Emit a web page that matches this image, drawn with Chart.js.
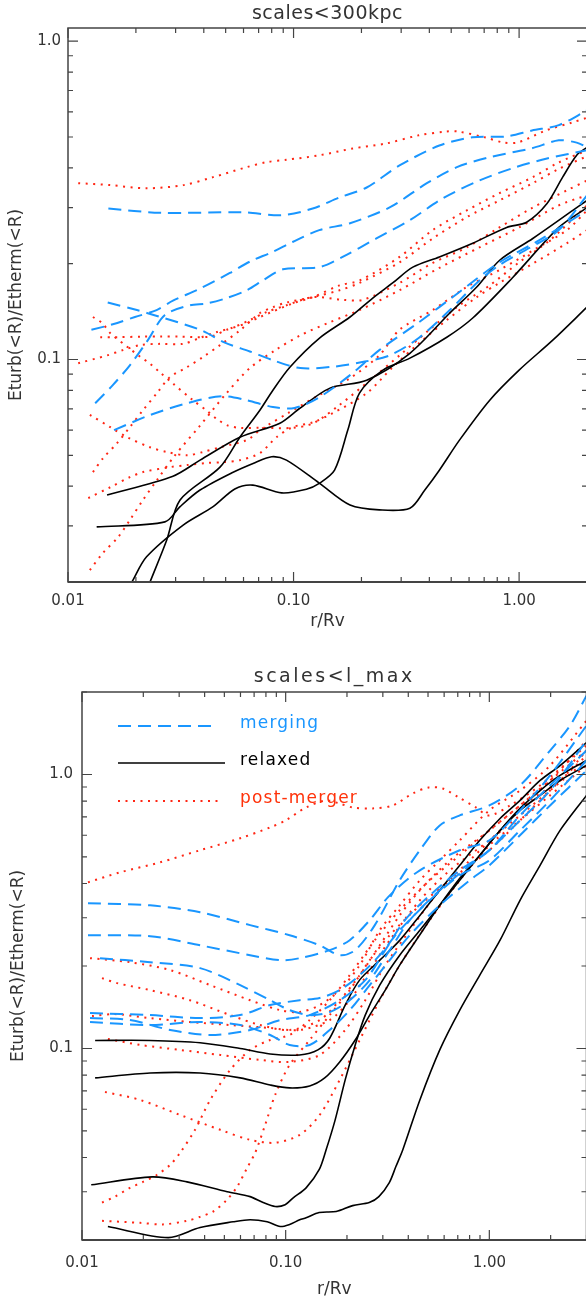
<!DOCTYPE html>
<html><head><meta charset="utf-8">
<script src="https://cdn.jsdelivr.net/npm/chart.js@4"></script>
<style>
html,body{margin:0;padding:0;overflow:hidden;background:#fff;width:586px;height:1302px;}
#c1{position:absolute;left:0;top:0;}
#c2{position:absolute;left:0;top:640px;}
</style></head><body>
<canvas id="c1" width="590" height="640" style="width:590px;height:640px"></canvas>
<canvas id="c2" width="590" height="662" style="width:590px;height:662px"></canvas>
<script>
// ---------------- data (r/Rv , Eturb/Etherm) ----------------
const X_TICKS = [0.01, 0.1, 1];
const X_TICK_LABELS = ['0.01', '0.10', '1.00'];
const Y_TICKS = [0.1, 1];
const Y_TICK_LABELS = ['0.1', '1.0'];
const X_TITLE = 'r/Rv';
const Y_TITLE = 'Eturb(<R)/Etherm(<R)';
const TITLE_TOP = 'scales<300kpc';
const TITLE_BOT = 'scales<l_max';
const LEGEND_LABELS = ['merging', 'relaxed', 'post-merger'];

// top panel: merging
const TOP_MERGING_1 = [[0.0151,0.298],[0.0256,0.289],[0.0596,0.29],[0.0887,0.284],[0.1216,0.298],[0.16,0.323],[0.211,0.347],[0.295,0.407],[0.443,0.47],[0.622,0.499],[0.88,0.502],[1.14,0.524],[1.5,0.545],[2.0,0.606]];
const TOP_MERGING_2 = [[0.0127,0.124],[0.0158,0.129],[0.0198,0.136],[0.0247,0.143],[0.0292,0.153],[0.0385,0.167],[0.0522,0.187],[0.064,0.203],[0.081,0.218],[0.099,0.234],[0.13,0.255],[0.178,0.268],[0.268,0.301],[0.39,0.358],[0.53,0.402],[0.74,0.432],[1.14,0.461],[1.5,0.488],[1.8,0.48],[2.0,0.464]];
const TOP_MERGING_3 = [[0.0132,0.0729],[0.0158,0.0831],[0.0188,0.0959],[0.0226,0.115],[0.0269,0.138],[0.0347,0.148],[0.0413,0.150],[0.0506,0.156],[0.062,0.165],[0.073,0.177],[0.0897,0.192],[0.13,0.195],[0.165,0.21],[0.233,0.24],[0.328,0.274],[0.459,0.321],[0.667,0.365],[0.936,0.399],[1.33,0.428],[2.0,0.454]];
const TOP_MERGING_4 = [[0.015,0.151],[0.0202,0.143],[0.0248,0.137],[0.0385,0.124],[0.0496,0.113],[0.064,0.106],[0.081,0.0995],[0.107,0.094],[0.152,0.095],[0.207,0.0985],[0.267,0.103],[0.36,0.117],[0.493,0.143],[0.667,0.177],[0.818,0.198],[1.11,0.224],[1.5,0.255],[2.0,0.328]];
const TOP_MERGING_5 = [[0.016,0.060],[0.0231,0.0669],[0.0337,0.0729],[0.0481,0.0767],[0.0621,0.0745],[0.081,0.0709],[0.101,0.0704],[0.13,0.0761],[0.178,0.0893],[0.24,0.107],[0.36,0.131],[0.544,0.163],[0.818,0.202],[1.23,0.237],[2.0,0.294]];
// top panel: relaxed
const TOP_RELAXED_1 = [[0.0149,0.0375],[0.0292,0.043],[0.0385,0.0483],[0.0578,0.057],[0.087,0.0631],[0.107,0.0704],[0.145,0.0813],[0.211,0.0861],[0.328,0.1046],[0.493,0.14],[0.649,0.169],[0.82,0.205],[1.15,0.24],[1.73,0.294],[2.0,0.316]];
const TOP_RELAXED_2 = [[0.0134,0.0298],[0.0269,0.0309],[0.0314,0.0345],[0.0385,0.0389],[0.0531,0.044],[0.0674,0.0474],[0.080,0.0495],[0.093,0.0483],[0.13,0.0409],[0.178,0.0349],[0.24,0.0337],[0.328,0.0341],[0.382,0.0389],[0.443,0.0449],[0.544,0.0558],[0.741,0.0745],[1.0,0.0926],[1.41,0.115],[2.0,0.146]];
const TOP_RELAXED_3 = [[0.0192,0.02],[0.0223,0.024],[0.0324,0.0302],[0.044,0.0345],[0.0549,0.0392],[0.066,0.0403],[0.0885,0.0381],[0.114,0.0391],[0.13,0.0408],[0.152,0.0449],[0.174,0.060],[0.196,0.0784],[0.249,0.0926],[0.328,0.101],[0.478,0.1175],[0.623,0.135],[0.937,0.181],[1.5,0.26],[2.0,0.30]];
const TOP_RELAXED_4 = [[0.0231,0.02],[0.0274,0.0271],[0.0314,0.0362],[0.0472,0.0459],[0.0578,0.057],[0.0709,0.0693],[0.081,0.0801],[0.0963,0.0946],[0.13,0.1166],[0.178,0.136],[0.2245,0.156],[0.275,0.174],[0.338,0.195],[0.443,0.21],[0.623,0.232],[0.881,0.26],[1.08,0.27],[1.33,0.309],[1.56,0.374],[1.8,0.438],[2.0,0.464]];
// top panel: post-merger
const TOP_POST_1 = [[0.0111,0.358],[0.0154,0.353],[0.0223,0.345],[0.0324,0.353],[0.044,0.374],[0.062,0.402],[0.076,0.417],[0.093,0.424],[0.13,0.438],[0.183,0.46],[0.257,0.477],[0.359,0.506],[0.473,0.52],[0.538,0.52],[0.711,0.498],[0.846,0.481],[0.99,0.481],[1.31,0.524],[1.73,0.556],[2.0,0.575]];
const TOP_POST_2 = [[0.0129,0.136],[0.0142,0.130],[0.0154,0.121],[0.0185,0.109],[0.0209,0.102],[0.0231,0.097],[0.0256,0.091],[0.0292,0.084],[0.0358,0.0745],[0.0413,0.069],[0.0457,0.065],[0.0512,0.062],[0.058,0.061],[0.071,0.061],[0.099,0.061],[0.122,0.063],[0.16,0.072],[0.218,0.086],[0.295,0.103],[0.40,0.124],[0.544,0.148],[0.741,0.171],[1.0,0.202],[1.37,0.237],[2.0,0.305]];
const TOP_POST_3 = [[0.0139,0.1175],[0.0165,0.1175],[0.0215,0.118],[0.0256,0.118],[0.0314,0.118],[0.0426,0.118],[0.0506,0.124],[0.062,0.130],[0.071,0.136],[0.099,0.150],[0.122,0.157],[0.16,0.171],[0.196,0.177],[0.295,0.21],[0.414,0.255],[0.586,0.294],[0.818,0.333],[1.15,0.374],[1.5,0.416],[2.0,0.454]];
const TOP_POST_4 = [[0.0111,0.0973],[0.0149,0.103],[0.0175,0.107],[0.0209,0.111],[0.0256,0.112],[0.0324,0.112],[0.0385,0.117],[0.0457,0.122],[0.0538,0.126],[0.064,0.133],[0.076,0.141],[0.093,0.148],[0.122,0.157],[0.165,0.154],[0.203,0.154],[0.295,0.174],[0.414,0.201],[0.586,0.225],[0.818,0.26],[1.15,0.30],[1.63,0.34],[2.0,0.365]];
const TOP_POST_5 = [[0.0125,0.067],[0.0154,0.0613],[0.0183,0.057],[0.0231,0.053],[0.0275,0.0512],[0.0337,0.050],[0.0396,0.0512],[0.0472,0.053],[0.062,0.0558],[0.071,0.060],[0.096,0.0683],[0.13,0.0773],[0.178,0.0874],[0.24,0.103],[0.295,0.124],[0.414,0.143],[0.586,0.169],[0.818,0.191],[1.15,0.22],[1.63,0.255],[2.0,0.294]];
const TOP_POST_6 = [[0.0129,0.0443],[0.0143,0.049],[0.0165,0.0546],[0.0188,0.0613],[0.0215,0.0693],[0.0248,0.0784],[0.0283,0.088],[0.0337,0.0946],[0.0396,0.1017],[0.0472,0.111],[0.058,0.1236],[0.071,0.14],[0.081,0.146],[0.093,0.151],[0.122,0.157],[0.16,0.165],[0.196,0.174],[0.295,0.202],[0.414,0.24],[0.586,0.28],[0.818,0.316],[1.15,0.358],[1.5,0.397],[2.0,0.435]];
const TOP_POST_7 = [[0.0123,0.0367],[0.0154,0.0397],[0.0188,0.0427],[0.0215,0.0443],[0.0283,0.0459],[0.0337,0.0466],[0.0413,0.0473],[0.0486,0.0476],[0.058,0.0483],[0.071,0.0508],[0.084,0.057],[0.099,0.0613],[0.122,0.0635],[0.149,0.0678],[0.211,0.0784],[0.275,0.0946],[0.36,0.1125],[0.478,0.133],[0.649,0.157],[0.818,0.174],[1.15,0.20],[1.63,0.232],[2.0,0.255]];
const TOP_POST_8 = [[0.0125,0.0218],[0.0143,0.0247],[0.0167,0.0277],[0.0188,0.0313],[0.0215,0.0362],[0.0248,0.0418],[0.0298,0.050],[0.0385,0.062],[0.0496,0.0773],[0.064,0.094],[0.083,0.107],[0.107,0.119],[0.145,0.131],[0.196,0.143],[0.295,0.165],[0.443,0.194],[0.667,0.225],[1.0,0.26],[1.5,0.305],[2.0,0.328]];

// bottom panel: merging
const BOT_MERGING_1 = [[0.0107,0.339],[0.0216,0.333],[0.038,0.314],[0.0669,0.282],[0.1046,0.259],[0.1469,0.238],[0.1842,0.219],[0.2195,0.2285],[0.274,0.282],[0.363,0.411],[0.456,0.529],[0.571,0.652],[0.716,0.709],[1.0,0.771],[1.415,0.912],[1.987,1.223],[2.49,1.508],[3.0,1.94]];
const BOT_MERGING_2 = [[0.0107,0.259],[0.0216,0.257],[0.038,0.238],[0.0669,0.219],[0.094,0.21],[0.1172,0.2136],[0.1645,0.2285],[0.2063,0.2484],[0.2587,0.294],[0.3243,0.362],[0.456,0.447],[0.716,0.529],[1.0,0.575],[1.415,0.740],[1.987,0.992],[3.0,1.508]];
const BOT_MERGING_3 = [[0.01226,0.2136],[0.0216,0.2065],[0.038,0.1965],[0.0598,0.1703],[0.0839,0.150],[0.1046,0.138],[0.1312,0.1324],[0.1645,0.1358],[0.2063,0.150],[0.2587,0.1777],[0.3243,0.2285],[0.407,0.294],[0.571,0.378],[0.802,0.466],[1.0,0.529],[1.415,0.680],[1.987,0.874],[3.0,1.33]];
const BOT_MERGING_4 = [[0.01095,0.1346],[0.0216,0.1324],[0.038,0.1291],[0.0598,0.1324],[0.0839,0.144],[0.1172,0.150],[0.1469,0.1528],[0.1842,0.1633],[0.231,0.1852],[0.2897,0.219],[0.363,0.270],[0.51,0.3475],[0.716,0.4285],[1.0,0.486],[1.415,0.625],[1.987,0.804],[3.0,1.125]];
const BOT_MERGING_5 = [[0.01095,0.1249],[0.0216,0.1218],[0.038,0.1249],[0.0598,0.1218],[0.0839,0.112],[0.1046,0.103],[0.1312,0.103],[0.1645,0.1168],[0.2063,0.138],[0.2587,0.1703],[0.3243,0.210],[0.407,0.259],[0.571,0.333],[0.802,0.411],[1.0,0.466],[1.415,0.600],[1.987,0.771],[3.0,1.034]];
const BOT_MERGING_6 = [[0.01095,0.1291],[0.0172,0.127],[0.0271,0.1168],[0.0426,0.112],[0.0669,0.1168],[0.094,0.127],[0.1312,0.1324],[0.1842,0.150],[0.2459,0.1777],[0.3083,0.2285],[0.385,0.294],[0.51,0.362],[0.716,0.447],[1.0,0.529],[1.415,0.709],[1.987,0.912],[3.0,1.223]];
// bottom panel: relaxed
const BOT_RELAXED_1 = [[0.0116,0.107],[0.0216,0.107],[0.038,0.105],[0.0598,0.100],[0.0839,0.0955],[0.117,0.0947],[0.144,0.0988],[0.1645,0.109],[0.196,0.144],[0.231,0.178],[0.29,0.21],[0.363,0.248],[0.456,0.306],[0.571,0.378],[0.716,0.466],[0.898,0.575],[1.129,0.691],[1.415,0.804],[1.775,0.951],[2.225,1.078],[3.0,1.308]];
const BOT_RELAXED_2 = [[0.0116,0.0781],[0.0216,0.0814],[0.038,0.0814],[0.0598,0.0781],[0.0839,0.0736],[0.1046,0.0718],[0.1312,0.073],[0.1555,0.0781],[0.1842,0.0893],[0.2195,0.1074],[0.2587,0.1324],[0.3083,0.1633],[0.363,0.2014],[0.456,0.26],[0.571,0.333],[0.716,0.418],[0.898,0.507],[1.129,0.625],[1.415,0.752],[1.775,0.874],[2.225,0.992],[3.0,1.125]];
const BOT_RELAXED_3 = [[0.0111,0.0318],[0.0221,0.034],[0.0328,0.0326],[0.0516,0.030],[0.0669,0.0288],[0.0775,0.0274],[0.0888,0.0265],[0.0994,0.0269],[0.1089,0.0285],[0.126,0.031],[0.146,0.0361],[0.158,0.0427],[0.175,0.0549],[0.196,0.0768],[0.2195,0.103],[0.2459,0.1324],[0.2897,0.1703],[0.363,0.219],[0.456,0.270],[0.571,0.333],[0.716,0.411],[0.898,0.507],[1.129,0.625],[1.415,0.740],[1.775,0.839],[2.225,0.951],[3.0,1.078]];
const BOT_RELAXED_4 = [[0.0134,0.0224],[0.0265,0.0204],[0.038,0.0222],[0.0552,0.0233],[0.0669,0.0237],[0.0811,0.0233],[0.094,0.0224],[0.1046,0.0228],[0.1172,0.0237],[0.126,0.0241],[0.146,0.0252],[0.177,0.0254],[0.2134,0.0267],[0.2573,0.0274],[0.2868,0.0288],[0.3228,0.0324],[0.3473,0.037],[0.376,0.0427],[0.456,0.0649],[0.571,0.0988],[0.716,0.138],[0.898,0.1852],[1.129,0.2484],[1.415,0.3475],[1.775,0.466],[2.225,0.625],[3.0,0.839]];
// bottom panel: post-merger
const BOT_POST_1 = [[0.0107,0.404],[0.0154,0.4395],[0.0242,0.478],[0.038,0.529],[0.0598,0.585],[0.0839,0.641],[0.1,0.680],[0.126,0.758],[0.158,0.804],[0.183,0.784],[0.2134,0.758],[0.2678,0.752],[0.3356,0.771],[0.4213,0.853],[0.5048,0.897],[0.5904,0.889],[0.7078,0.825],[0.8588,0.758],[1.0,0.709],[1.264,0.771],[1.775,0.912],[3.0,1.275]];
const BOT_POST_2 = [[0.01095,0.2136],[0.0172,0.2065],[0.0271,0.1932],[0.0426,0.1703],[0.0669,0.150],[0.094,0.138],[0.1172,0.1358],[0.1469,0.144],[0.1842,0.1633],[0.231,0.2014],[0.2897,0.270],[0.363,0.333],[0.456,0.411],[0.571,0.486],[0.716,0.575],[1.0,0.740],[1.415,0.874],[1.987,1.078],[3.0,1.573]];
const BOT_POST_3 = [[0.01254,0.1806],[0.01486,0.1732],[0.0216,0.1633],[0.0339,0.150],[0.0534,0.1324],[0.0749,0.1218],[0.1046,0.1168],[0.1469,0.127],[0.1842,0.150],[0.231,0.1852],[0.2897,0.238],[0.363,0.306],[0.456,0.378],[0.64,0.486],[1.0,0.625],[1.415,0.771],[1.987,0.951],[3.0,1.223]];
const BOT_POST_4 = [[0.0112,0.1313],[0.01452,0.1335],[0.0216,0.1291],[0.0339,0.1249],[0.0534,0.1218],[0.0839,0.1188],[0.1172,0.1168],[0.1645,0.127],[0.2063,0.150],[0.2587,0.1932],[0.3243,0.2484],[0.456,0.3475],[0.64,0.447],[1.0,0.575],[1.415,0.709],[1.987,0.874],[3.0,1.125]];
const BOT_POST_5 = [[0.0134,0.1083],[0.0193,0.103],[0.0303,0.0988],[0.0477,0.0947],[0.0749,0.0908],[0.1046,0.0893],[0.1469,0.0947],[0.196,0.1168],[0.2459,0.150],[0.3083,0.2014],[0.407,0.270],[0.571,0.378],[0.802,0.486],[1.129,0.625],[1.585,0.804],[2.225,0.951],[3.0,1.223]];
const BOT_POST_6 = [[0.01297,0.0694],[0.0193,0.0649],[0.0303,0.0572],[0.0477,0.0505],[0.0669,0.0464],[0.0888,0.0453],[0.1172,0.0484],[0.1469,0.0572],[0.1842,0.0768],[0.231,0.1074],[0.2897,0.150],[0.363,0.2014],[0.51,0.294],[0.716,0.411],[1.0,0.551],[1.415,0.680],[1.987,0.839],[3.0,1.078]];
const BOT_POST_7 = [[0.01254,0.0274],[0.01452,0.0288],[0.0172,0.031],[0.01994,0.0326],[0.02337,0.0346],[0.0271,0.0376],[0.0303,0.0416],[0.0359,0.0505],[0.0426,0.0649],[0.0534,0.0835],[0.0669,0.0988],[0.0839,0.1074],[0.1046,0.112],[0.1312,0.127],[0.1645,0.150],[0.2063,0.1852],[0.274,0.2484],[0.363,0.3195],[0.51,0.411],[0.716,0.507],[1.0,0.625],[1.415,0.771],[1.987,0.951],[3.0,1.33]];
const BOT_POST_8 = [[0.01254,0.0235],[0.0193,0.0231],[0.025,0.0228],[0.0328,0.0235],[0.038,0.0243],[0.044,0.0254],[0.0516,0.0281],[0.0578,0.0313],[0.0647,0.0367],[0.0708,0.0416],[0.0793,0.0526],[0.0888,0.0677],[0.1046,0.0871],[0.1312,0.1074],[0.1645,0.1324],[0.2063,0.1633],[0.2587,0.210],[0.3243,0.259],[0.456,0.333],[0.64,0.411],[1.0,0.529],[1.415,0.680],[1.987,0.874],[3.0,1.173]];

// ---------------- styling ----------------
const FONT = 'DejaVu Sans';
const BLUE = 'rgb(25,150,255)';
const RED = 'rgb(255,38,20)';
const TEXT = '#333';
const AXIS = '#444';
const STYLE = {
  merging: {borderColor: BLUE, borderWidth: 2, borderDash: [13, 7]},
  relaxed: {borderColor: '#000', borderWidth: 1.6, borderDash: []},
  post:    {borderColor: RED, borderWidth: 2, borderDash: [2, 5.5]}
};
Chart.defaults.font.family = FONT;

function series(arr, kind) {
  return Object.assign({data: arr.map(p => ({x: p[0], y: p[1]})), pointRadius: 0, fill: false,
    tension: 0.3, borderCapStyle: 'butt'}, STYLE[kind]);
}

const framePlugin = {
  id: 'frame',
  afterDatasetsDraw(chart, args, o) {
    const {ctx, chartArea: a} = chart;
    const xs = chart.scales.x, ys = chart.scales.y;
    ctx.save();
    ctx.setLineDash([]);
    ctx.strokeStyle = AXIS;
    ctx.lineWidth = 1.5;
    ctx.strokeRect(a.left, a.top, a.right - a.left, a.bottom - a.top);
    ctx.lineWidth = 2.2;
    ctx.beginPath(); ctx.moveTo(a.left, a.bottom); ctx.lineTo(a.right, a.bottom); ctx.stroke();
    ctx.lineWidth = 1.2;
    ctx.beginPath();
    for (let e = -3; e <= 1; e++) {
      for (let m = 1; m <= 9; m++) {
        const v = m * Math.pow(10, e);
        const L = m === 1 ? 10 : 5;
        if (v >= xs.min * 0.999 && v <= xs.max * 1.001) {
          const p = xs.getPixelForValue(v);
          ctx.moveTo(p, a.bottom); ctx.lineTo(p, a.bottom - L);
          ctx.moveTo(p, a.top); ctx.lineTo(p, a.top + L);
        }
        if (v >= ys.min * 0.999 && v <= ys.max * 1.001) {
          const p = ys.getPixelForValue(v);
          ctx.moveTo(a.left, p); ctx.lineTo(a.left + L, p);
          ctx.moveTo(a.right, p); ctx.lineTo(a.right - L, p);
        }
      }
    }
    ctx.stroke();
    // panel title
    ctx.fillStyle = TEXT;
    ctx.font = '19px "' + FONT + '"';
    ctx.letterSpacing = o.titleSpacing + 'px';
    ctx.textAlign = 'center';
    ctx.textBaseline = 'alphabetic';
    ctx.fillText(o.title, (a.left + a.right) / 2, o.titleBaseline);
    ctx.restore();
  }
};

const legendPlugin = {
  id: 'ownLegend',
  afterDatasetsDraw(chart, args, o) {
    if (!o.show) return;
    const {ctx} = chart;
    const kinds = ['merging', 'relaxed', 'post'];
    const colors = [BLUE, '#000', 'rgb(255,50,10)'];
    const rows = [{y: 86, x2: 218, tb: 87.5}, {y: 123, x2: 225, tb: 124.5}, {y: 161, x2: 222, tb: 162.5}];
    ctx.save();
    rows.forEach((r, i) => {
      const st = STYLE[kinds[i]];
      ctx.strokeStyle = st.borderColor;
      ctx.lineWidth = st.borderWidth;
      ctx.setLineDash(st.borderDash);
      ctx.beginPath(); ctx.moveTo(118, r.y); ctx.lineTo(r.x2, r.y); ctx.stroke();
      ctx.setLineDash([]);
      ctx.fillStyle = colors[i];
      ctx.font = '17px "' + FONT + '"';
      ctx.letterSpacing = '1.2px';
      ctx.textAlign = 'left';
      ctx.textBaseline = 'alphabetic';
      ctx.fillText(LEGEND_LABELS[i], 240, r.tb);
    });
    ctx.restore();
  }
};

function makePanel(canvas, p) {
  return new Chart(canvas, {
    type: 'line',
    data: {datasets: p.datasets},
    plugins: [framePlugin, legendPlugin],
    options: {
      responsive: false, animation: false, events: [],
      layout: {padding: {left: 0, right: p.padRight, top: p.padTop, bottom: 0}},
      plugins: {
        legend: {display: false}, tooltip: {enabled: false}, title: {display: false},
        frame: {title: p.title, titleBaseline: p.titleBaseline, titleSpacing: p.titleSpacing},
        ownLegend: {show: p.legend}
      },
      scales: {
        x: {
          type: 'logarithmic', position: 'bottom', min: 0.01, max: p.xmax,
          afterFit(s) { s.height = p.xh; },
          afterBuildTicks(s) { s.ticks = X_TICKS.map(v => ({value: v})); },
          ticks: {autoSkip: false, maxRotation: 0, minRotation: 0, padding: p.xpad, color: TEXT,
            font: {family: FONT, size: 15}, callback: (v, i) => X_TICK_LABELS[i]},
          grid: {display: false, drawTicks: false}, border: {display: false},
          title: {display: true, text: X_TITLE, color: TEXT, font: {family: FONT, size: 17},
            padding: {top: 0, bottom: p.xtpad}}
        },
        y: {
          type: 'logarithmic', position: 'left', min: p.ymin, max: p.ymax,
          afterFit(s) { s.width = p.yw; },
          afterBuildTicks(s) { s.ticks = Y_TICKS.map(v => ({value: v})); },
          ticks: {autoSkip: false, padding: p.ypad, color: TEXT,
            font: {family: FONT, size: 15}, callback: (v, i) => Y_TICK_LABELS[i]},
          grid: {display: false, drawTicks: false}, border: {display: false},
          title: {display: true, text: Y_TITLE, color: TEXT, font: {family: FONT, size: 17},
            padding: {top: p.ytpad, bottom: 0}}
        }
      }
    }
  });
}

const topSets = [
  series(TOP_MERGING_1,'merging'), series(TOP_MERGING_2,'merging'), series(TOP_MERGING_3,'merging'),
  series(TOP_MERGING_4,'merging'), series(TOP_MERGING_5,'merging'),
  series(TOP_RELAXED_1,'relaxed'), series(TOP_RELAXED_2,'relaxed'), series(TOP_RELAXED_3,'relaxed'), series(TOP_RELAXED_4,'relaxed'),
  series(TOP_POST_1,'post'), series(TOP_POST_2,'post'), series(TOP_POST_3,'post'), series(TOP_POST_4,'post'),
  series(TOP_POST_5,'post'), series(TOP_POST_6,'post'), series(TOP_POST_7,'post'), series(TOP_POST_8,'post')
];
const botSets = [
  series(BOT_MERGING_1,'merging'), series(BOT_MERGING_2,'merging'), series(BOT_MERGING_3,'merging'),
  series(BOT_MERGING_4,'merging'), series(BOT_MERGING_5,'merging'), series(BOT_MERGING_6,'merging'),
  series(BOT_RELAXED_1,'relaxed'), series(BOT_RELAXED_2,'relaxed'), series(BOT_RELAXED_3,'relaxed'), series(BOT_RELAXED_4,'relaxed'),
  series(BOT_POST_1,'post'), series(BOT_POST_2,'post'), series(BOT_POST_3,'post'), series(BOT_POST_4,'post'),
  series(BOT_POST_5,'post'), series(BOT_POST_6,'post'), series(BOT_POST_7,'post'), series(BOT_POST_8,'post')
];

makePanel(document.getElementById('c1'), {
  datasets: topSets, xmax: 2.0, ymin: 0.02, ymax: 1.1,
  padTop: 28, padRight: 3, yw: 68, xh: 58, xpad: 10, ypad: 7, xtpad: 8, ytpad: 6.5,
  title: TITLE_TOP, titleBaseline: 19, titleSpacing: 0.5, legend: false
});
makePanel(document.getElementById('c2'), {
  datasets: botSets, xmax: 3.0, ymin: 0.02, ymax: 2.0,
  padTop: 52, padRight: 3.5, yw: 82, xh: 62, xpad: 14, ypad: 9, xtpad: 2, ytpad: 8.5,
  title: TITLE_BOT, titleBaseline: 41.7, titleSpacing: 2.5, legend: true
});
</script>
</body></html>
